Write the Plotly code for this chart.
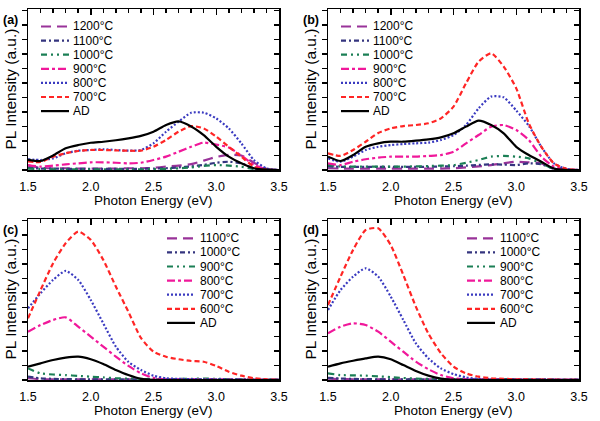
import plotly.graph_objects as go

# ---------------- data ----------------
energy = [1.5, 1.6, 1.7, 1.8, 1.9, 2.0, 2.1, 2.2, 2.3, 2.4, 2.5,
          2.6, 2.7, 2.8, 2.9, 3.0, 3.1, 3.2, 3.3, 3.4, 3.5]

labels_ab = ["1200°C", "1100°C", "1000°C", "900°C", "800°C", "700°C", "AD"]
labels_cd = ["1100°C", "1000°C", "900°C", "800°C", "700°C", "600°C", "AD"]

# panel (a)
a_1200 = [0.30, 0.15, 0.12, 0.12, 0.10, 0.10, 0.10, 0.10, 0.12, 0.12, 0.15, 0.23, 0.30, 0.40, 0.65, 0.90, 1.05, 1.00, 0.50, 0.08, 0.0]
a_1100 = [0.15, 0.10, 0.10, 0.08, 0.08, 0.08, 0.08, 0.08, 0.08, 0.08, 0.10, 0.12, 0.18, 0.25, 0.35, 0.50, 0.57, 0.46, 0.12, 0.02, 0.0]
a_1000 = [0.10, 0.06, 0.05, 0.05, 0.05, 0.05, 0.05, 0.05, 0.05, 0.05, 0.06, 0.08, 0.12, 0.18, 0.28, 0.34, 0.30, 0.23, 0.06, 0.01, 0.0]
a_900 = [0.34, 0.23, 0.30, 0.39, 0.46, 0.53, 0.53, 0.50, 0.46, 0.50, 0.69, 0.92, 1.26, 1.60, 1.89, 1.75, 1.55, 1.00, 0.35, 0.05, 0.0]
a_800 = [0.74, 0.69, 0.80, 1.15, 1.33, 1.38, 1.43, 1.38, 1.33, 1.38, 1.84, 2.64, 3.33, 3.95, 3.95, 3.56, 2.87, 1.84, 0.69, 0.11, 0.0]
a_700 = [0.60, 0.55, 0.92, 1.15, 1.31, 1.38, 1.38, 1.35, 1.33, 1.33, 1.60, 2.07, 2.64, 3.03, 2.87, 2.30, 1.60, 0.92, 0.23, 0.02, 0.0]
a_ad = [0.70, 0.62, 1.00, 1.50, 1.72, 1.88, 1.95, 2.05, 2.18, 2.35, 2.64, 3.10, 3.35, 3.00, 2.40, 1.60, 0.92, 0.46, 0.12, 0.02, 0.0]

# panel (b)
b_1200 = [0.12, 0.10, 0.10, 0.10, 0.10, 0.10, 0.10, 0.10, 0.10, 0.10, 0.12, 0.18, 0.25, 0.34, 0.46, 0.57, 0.53, 0.46, 0.10, 0.01, 0.0]
b_1100 = [0.25, 0.22, 0.22, 0.22, 0.22, 0.22, 0.22, 0.22, 0.22, 0.24, 0.26, 0.30, 0.35, 0.39, 0.37, 0.34, 0.46, 0.40, 0.08, 0.01, 0.0]
b_1000 = [0.35, 0.25, 0.23, 0.23, 0.23, 0.23, 0.23, 0.25, 0.27, 0.30, 0.34, 0.50, 0.69, 0.92, 0.97, 0.92, 0.80, 0.46, 0.08, 0.01, 0.0]
b_900 = [0.46, 0.34, 0.57, 0.74, 0.85, 0.92, 0.92, 0.92, 0.97, 1.03, 1.26, 1.84, 2.41, 2.99, 3.10, 2.76, 2.07, 0.92, 0.23, 0.03, 0.0]
b_800 = [0.80, 0.57, 0.92, 1.38, 1.60, 1.72, 1.79, 1.84, 1.89, 2.07, 2.41, 3.10, 4.25, 5.06, 5.01, 4.10, 3.05, 1.60, 0.46, 0.08, 0.0]
b_700 = [1.15, 0.97, 1.38, 1.95, 2.55, 2.87, 3.03, 3.10, 3.22, 3.56, 4.37, 5.98, 7.47, 8.05, 7.13, 5.63, 3.22, 1.60, 0.46, 0.08, 0.0]
b_ad = [0.92, 0.62, 1.03, 1.60, 1.84, 1.95, 1.95, 2.02, 2.11, 2.25, 2.53, 2.99, 3.40, 3.10, 2.53, 1.60, 1.03, 0.57, 0.10, 0.0, 0.0]

# panel (c)
c_1100 = [0.12, 0.06, 0.05, 0.04, 0.04, 0.04, 0.04, 0.04, 0.04, 0.04, 0.04, 0.04, 0.04, 0.04, 0.04, 0.04, 0.03, 0.03, 0.02, 0.02, 0.02]
c_1000 = [0.23, 0.12, 0.08, 0.06, 0.05, 0.05, 0.05, 0.05, 0.05, 0.05, 0.05, 0.05, 0.05, 0.05, 0.05, 0.05, 0.04, 0.04, 0.03, 0.03, 0.03]
c_900 = [0.80, 0.46, 0.38, 0.34, 0.28, 0.23, 0.18, 0.12, 0.10, 0.08, 0.07, 0.07, 0.07, 0.08, 0.10, 0.08, 0.06, 0.04, 0.02, 0.01, 0.0]
c_800 = [3.33, 3.79, 4.14, 4.32, 3.68, 2.99, 2.30, 1.61, 0.97, 0.46, 0.15, 0.05, 0.03, 0.02, 0.02, 0.02, 0.02, 0.01, 0.01, 0.01, 0.0]
c_700 = [4.94, 5.98, 6.90, 7.52, 6.90, 5.52, 3.90, 2.30, 1.25, 0.69, 0.30, 0.12, 0.08, 0.06, 0.05, 0.05, 0.03, 0.02, 0.01, 0.0, 0.0]
c_600 = [4.25, 6.20, 8.05, 9.43, 10.23, 9.66, 8.28, 6.44, 4.70, 2.90, 1.95, 1.60, 1.43, 1.31, 1.26, 0.97, 0.57, 0.30, 0.12, 0.04, 0.0]
c_ad = [0.92, 1.15, 1.38, 1.54, 1.61, 1.43, 1.10, 0.69, 0.34, 0.08, 0.01, 0.0, 0.0, 0.0, 0.0, 0.0, 0.0, 0.0, 0.0, 0.0, 0.0]

# panel (d)
d_1100 = [0.10, 0.06, 0.05, 0.04, 0.04, 0.04, 0.04, 0.04, 0.04, 0.04, 0.04, 0.04, 0.04, 0.04, 0.04, 0.04, 0.03, 0.03, 0.02, 0.02, 0.02]
d_1000 = [0.15, 0.10, 0.08, 0.06, 0.05, 0.05, 0.05, 0.05, 0.05, 0.05, 0.05, 0.05, 0.05, 0.05, 0.05, 0.05, 0.04, 0.04, 0.03, 0.03, 0.03]
d_900 = [0.46, 0.34, 0.32, 0.30, 0.25, 0.20, 0.14, 0.10, 0.07, 0.05, 0.05, 0.05, 0.05, 0.05, 0.05, 0.04, 0.04, 0.03, 0.02, 0.01, 0.0]
d_800 = [3.22, 3.68, 3.91, 3.79, 3.33, 2.64, 1.95, 1.26, 0.74, 0.34, 0.12, 0.05, 0.03, 0.02, 0.02, 0.02, 0.02, 0.01, 0.01, 0.01, 0.0]
d_700 = [4.83, 6.20, 7.13, 7.70, 7.13, 5.75, 4.14, 2.53, 1.49, 0.80, 0.41, 0.18, 0.08, 0.05, 0.04, 0.03, 0.03, 0.02, 0.02, 0.01, 0.0]
d_600 = [5.17, 7.13, 8.97, 10.34, 10.46, 9.30, 7.24, 5.06, 3.20, 1.84, 0.92, 0.46, 0.23, 0.12, 0.08, 0.05, 0.04, 0.03, 0.02, 0.01, 0.0]
d_ad = [0.92, 1.15, 1.33, 1.49, 1.61, 1.43, 1.03, 0.62, 0.30, 0.10, 0.02, 0.0, 0.0, 0.0, 0.0, 0.0, 0.0, 0.0, 0.0, 0.0, 0.0]

panel_tags = ["(a)", "(b)", "(c)", "(d)"]
x_tick_vals = [1.5, 2.0, 2.5, 3.0, 3.5]
x_tick_text = ["1.5", "2.0", "2.5", "3.0", "3.5"]

# ---------------- styles ----------------
colors = ["#993399", "#35357F", "#1B7F55", "#F0189A", "#3A3AC0", "#FF2525", "#000000"]
dashes = ["10px,6px", "5px,3px,2px,3px", "6px,4px,2px,4px,2px,4px",
          "8px,3px,3px,3px", "2px,2px", "5px,3px", "solid"]

FONT = "Liberation Sans, Arial, sans-serif"
W, H = 600, 421

def px(x):
    return x / W

def py(y):
    return 1 - y / H

panels = [
    dict(series=[a_1200, a_1100, a_1000, a_900, a_800, a_700, a_ad], labels=labels_ab,
         xd=(28, 279), yd=(9, 170), leg=(41, 69, 71, 26.5)),
    dict(series=[b_1200, b_1100, b_1000, b_900, b_800, b_700, b_ad], labels=labels_ab,
         xd=(328, 579), yd=(9, 170), leg=(341, 369, 371, 26.5)),
    dict(series=[c_1100, c_1000, c_900, c_800, c_700, c_600, c_ad], labels=labels_cd,
         xd=(28, 279), yd=(219, 380), leg=(167, 195, 198, 238.3)),
    dict(series=[d_1100, d_1000, d_900, d_800, d_700, d_600, d_ad], labels=labels_cd,
         xd=(328, 579), yd=(219, 380), leg=(467, 495, 498, 238.3)),
]

fig = go.Figure()
layout = dict(width=W, height=H, margin=dict(l=0, r=0, t=0, b=0, pad=0, autoexpand=False),
              paper_bgcolor="white", plot_bgcolor="white", showlegend=False,
              font=dict(family=FONT, color="black"))
shapes = []
annotations = []

for i, p in enumerate(panels):
    k = i + 1
    ko = i + 5
    xa, ya = f"x{k}", f"y{k}"
    xo, yo = f"x{ko}", f"y{ko}"
    for s, lab, col, dsh in zip(p["series"], p["labels"], colors, dashes):
        fig.add_trace(go.Scatter(x=energy, y=s, mode="lines", name=lab,
                                 xaxis=xa, yaxis=ya,
                                 line=dict(color=col, width=2.2, dash=dsh,
                                           shape="spline", smoothing=0.6),
                                 hoverinfo="skip"))
    fig.add_trace(go.Scatter(x=[None], y=[None], xaxis=xo, yaxis=yo,
                             showlegend=False, hoverinfo="skip"))

    xdom = [px(p["xd"][0]), px(p["xd"][1])]
    ydom = [py(p["yd"][1]), py(p["yd"][0])]
    layout[f"xaxis{k}"] = dict(domain=xdom, anchor=ya, range=[1.5, 3.5],
                               tickvals=x_tick_vals, ticktext=x_tick_text,
                               ticks="", showline=True, linecolor="black",
                               linewidth=1.5, mirror=True, showgrid=False,
                               zeroline=False, tickfont=dict(size=12.5),
                               ticklabelstandoff=4, automargin=False)
    layout[f"yaxis{k}"] = dict(domain=ydom, anchor=xa, range=[0, 11.1],
                               dtick=1, tick0=0, ticks="outside", ticklen=5,
                               tickwidth=1.5, tickcolor="black",
                               showticklabels=False, showline=True,
                               linecolor="black", linewidth=1.5, mirror=True,
                               showgrid=False, zeroline=False, automargin=False)
    layout[f"xaxis{ko}"] = dict(overlaying=xa, anchor=yo, side="top",
                                range=[1.5, 3.5], tick0=1.5, dtick=0.5,
                                ticks="inside", ticklen=6, tickwidth=1.5,
                                tickcolor="black", showticklabels=False,
                                showline=False, showgrid=False, zeroline=False,
                                automargin=False,
                                minor=dict(dtick=0.1, ticks="inside", ticklen=3.5,
                                           tickwidth=1.5, tickcolor="black",
                                           showgrid=False))
    layout[f"yaxis{ko}"] = dict(overlaying=ya, anchor=xo, side="right",
                                range=[0, 11.1], tick0=0, dtick=1,
                                ticks="inside", ticklen=5, tickwidth=1.5,
                                tickcolor="black", showticklabels=False,
                                showline=False, showgrid=False, zeroline=False,
                                automargin=False)

    # legend drawn as short sample lines + labels
    x0, x1, xt, y0 = p["leg"]
    for j, (lab, col, dsh) in enumerate(zip(p["labels"], colors, dashes)):
        yy = y0 + 14.1 * j
        shapes.append(dict(type="line", xref="paper", yref="paper",
                           x0=px(x0), x1=px(x1), y0=py(yy), y1=py(yy),
                           line=dict(color=col, width=2.2, dash=dsh)))
        annotations.append(dict(text=lab, xref="paper", yref="paper",
                                x=px(xt), y=py(yy), xanchor="left",
                                yanchor="middle", showarrow=False,
                                font=dict(size=12, color="black")))

    # panel tag
    annotations.append(dict(text=f"<b>{panel_tags[i]}</b>", xref="paper", yref="paper",
                            x=px(p["xd"][0] - 27), y=py(p["yd"][0] + 11),
                            xanchor="left", yanchor="middle", showarrow=False,
                            font=dict(size=12.5)))
    # axis titles
    annotations.append(dict(text="PL Intensity (a.u.)", xref="paper", yref="paper",
                            x=px(p["xd"][0] - 18), y=py((p["yd"][0] + p["yd"][1]) / 2),
                            xanchor="center", yanchor="middle", textangle=-90,
                            showarrow=False, font=dict(size=15.5)))
    annotations.append(dict(text="Photon Energy (eV)", xref="paper", yref="paper",
                            x=px((p["xd"][0] + p["xd"][1]) / 2), y=py(p["yd"][1] + 30),
                            xanchor="center", yanchor="middle",
                            showarrow=False, font=dict(size=13.5)))

layout["shapes"] = shapes
layout["annotations"] = annotations
fig.update_layout(**layout)
fig.write_html("out.html", config={"displayModeBar": False, "staticPlot": True},
               post_script="document.body.style.margin='0';document.body.style.padding='0';"
                           "document.documentElement.style.overflow='hidden';")
